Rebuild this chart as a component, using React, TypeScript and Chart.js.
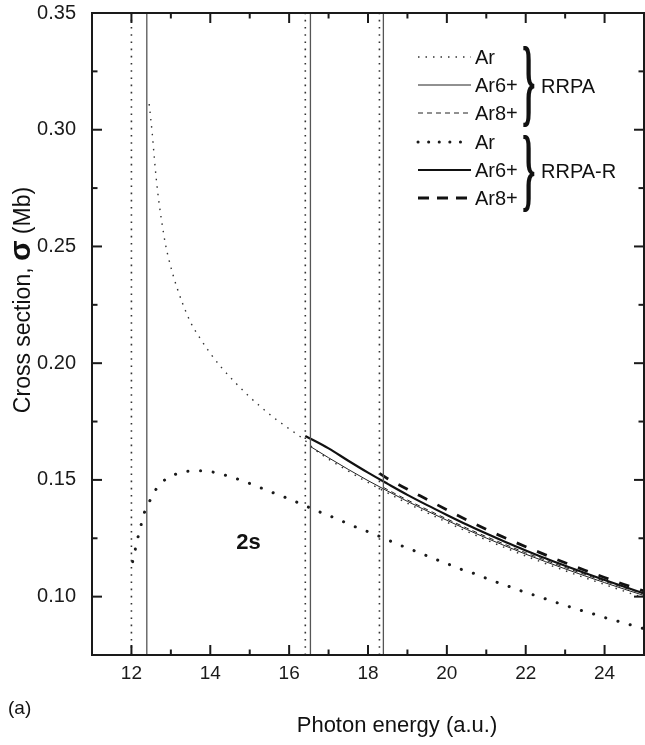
import React, { useEffect, useRef } from 'react';
import { Chart, registerables } from 'chart.js';

Chart.register(...registerables);

const FONT = "'Liberation Sans', Arial, sans-serif";

// ---- axes ----
const xRange = [11, 25];
const yRange = [0.075, 0.35];
const xMajorTicks = [12, 14, 16, 18, 20, 22, 24];
const xMinorTicks = [11, 13, 15, 17, 19, 21, 23, 25];
const yMajorTicks = [0.1, 0.15, 0.2, 0.25, 0.3, 0.35];
const yMinorTicks = [0.075, 0.125, 0.175, 0.225, 0.275, 0.325];
const xTitle = 'Photon energy (a.u.)';
const yTitleParts = ['Cross section, ', 'σ', ' (Mb)'];
const panelLabel = '(a)';
const shellLabel = '2s';
const shellLabelAt = [14.97, 0.1228];

// ---- thresholds (vertical lines) ----
const thresholdsRRPA_R = [12.0, 16.41, 18.29]; // dotted
const thresholdsRRPA = [12.39, 16.54, 18.39]; // solid

// ---- RRPA ----
const rrpaArE = [12.45, 12.53, 12.58, 12.63, 12.69, 12.77, 12.86, 12.94, 13.04, 13.15, 13.3, 13.5, 13.74, 13.98, 14.28, 14.61, 14.97, 15.3, 15.6, 15.95, 16.26, 16.41, 16.6, 17.0, 17.5, 18.0, 18.5, 19.0, 19.5, 20.0, 20.5, 21.0, 21.5, 22.0, 22.5, 23.0, 23.5, 24.0, 24.5, 25.0];
const rrpaArS = [0.311, 0.298, 0.288, 0.279, 0.27, 0.2605, 0.2512, 0.2451, 0.2387, 0.2326, 0.2255, 0.2175, 0.2107, 0.2047, 0.1982, 0.1921, 0.186, 0.181, 0.1768, 0.1725, 0.1688, 0.1668, 0.1637, 0.1589, 0.1538, 0.1489, 0.1444, 0.14, 0.1359, 0.1319, 0.128, 0.1243, 0.1208, 0.1174, 0.1142, 0.1111, 0.1081, 0.1052, 0.1023, 0.0995];

const rrpaAr6E = [16.54, 17.0, 17.5, 18.0, 18.5, 19.0, 19.5, 20.0, 20.5, 21.0, 21.5, 22.0, 22.5, 23.0, 23.5, 24.0, 24.5, 25.0];
const rrpaAr6S = [0.1643, 0.1595, 0.1545, 0.1497, 0.1452, 0.1408, 0.1367, 0.1327, 0.1288, 0.1251, 0.1216, 0.1182, 0.115, 0.1119, 0.1089, 0.106, 0.1032, 0.1005];

const rrpaAr8E = [18.39, 18.5, 19.0, 19.5, 20.0, 20.5, 21.0, 21.5, 22.0, 22.5, 23.0, 23.5, 24.0, 24.5, 25.0];
const rrpaAr8S = [0.1468, 0.1458, 0.1414, 0.1373, 0.1333, 0.1294, 0.1257, 0.1222, 0.1188, 0.1156, 0.1125, 0.1095, 0.1066, 0.1038, 0.1011];

// ---- RRPA-R ----
const rrpaRArE = [12.03, 12.07, 12.13, 12.22, 12.3, 12.43, 12.6, 12.9, 13.24, 13.56, 13.87, 14.21, 14.53, 14.85, 15.18, 15.5, 15.83, 16.15, 16.47, 16.8, 17.13, 17.46, 17.78, 18.1, 18.42, 18.76, 19.08, 19.41, 19.73, 20.05, 20.38, 20.71, 21.04, 21.36, 21.69, 22.01, 22.34, 22.66, 22.98, 23.32, 23.64, 23.97, 24.29, 24.62, 24.95, 25.0];
const rrpaRArS = [0.115, 0.1178, 0.123, 0.1289, 0.1346, 0.1397, 0.1454, 0.1507, 0.153, 0.1539, 0.1539, 0.1527, 0.1513, 0.1494, 0.1473, 0.1451, 0.143, 0.1408, 0.1385, 0.1361, 0.1339, 0.1315, 0.1292, 0.1272, 0.1249, 0.1224, 0.1203, 0.1181, 0.1159, 0.1138, 0.1116, 0.1098, 0.1076, 0.1056, 0.1037, 0.1017, 0.1, 0.0981, 0.0964, 0.0945, 0.093, 0.0912, 0.0897, 0.0881, 0.0865, 0.0863];

const rrpaRAr6E = [16.41, 17.0, 17.5, 18.0, 18.5, 19.0, 19.5, 20.0, 20.5, 21.0, 21.5, 22.0, 22.5, 23.0, 23.5, 24.0, 24.5, 25.0];
const rrpaRAr6S = [0.1688, 0.1635, 0.1582, 0.1531, 0.1483, 0.1436, 0.1392, 0.135, 0.1309, 0.127, 0.1233, 0.1198, 0.1164, 0.1132, 0.1101, 0.1071, 0.1042, 0.1014];

const rrpaRAr8E = [18.29, 18.5, 19.0, 19.5, 20.0, 20.5, 21.0, 21.5, 22.0, 22.5, 23.0, 23.5, 24.0, 24.5, 25.0];
const rrpaRAr8S = [0.1528, 0.1505, 0.146, 0.1416, 0.1372, 0.1329, 0.1288, 0.125, 0.1214, 0.1179, 0.1145, 0.1113, 0.1082, 0.1052, 0.1024];

// ---- legend ----
const legendLabels = ['Ar', 'Ar6+', 'Ar8+', 'Ar', 'Ar6+', 'Ar8+'];
const legendGroups = ['RRPA', 'RRPA-R'];

// styles
const STYLE = {
  fineDot: { color: '#333', width: 1.4, dash: [1.5, 6], cap: 'butt' },
  thinSolid: { color: '#222', width: 1, dash: [], cap: 'butt' },
  thinDash: { color: '#222', width: 1, dash: [5, 4], cap: 'butt' },
  bigDot: { color: '#1a1a1a', width: 3, dash: [0.1, 12.6], cap: 'round' },
  thickSolid: { color: '#111', width: 2.2, dash: [], cap: 'butt' },
  thickDash: { color: '#111', width: 2.8, dash: [10.5, 11.5], cap: 'butt' },
};
const legendStyles = [STYLE.fineDot, STYLE.thinSolid, STYLE.thinDash, STYLE.bigDot, STYLE.thickSolid, STYLE.thickDash];

const pts = (E: number[], S: number[]) => E.map((e, i) => ({ x: e, y: S[i] }));

function curve(label: string, E: number[], S: number[], st: any) {
  return {
    label,
    data: pts(E, S),
    borderColor: st.color,
    borderWidth: st.width,
    borderDash: st.dash,
    borderCapStyle: st.cap,
    pointRadius: 0,
    fill: false,
    cubicInterpolationMode: 'monotone',
  };
}

function vline(t: number, dotted: boolean) {
  return {
    label: 'threshold',
    data: [{ x: t, y: yRange[0] }, { x: t, y: yRange[1] }],
    borderColor: dotted ? '#333' : '#555',
    borderWidth: dotted ? 1.6 : 1.3,
    borderDash: dotted ? [1.6, 5.6] : [],
    pointRadius: 0,
    fill: false,
  };
}

const decorPlugin = {
  id: 'decor',
  afterDraw(chart: any) {
    const { ctx, chartArea, scales } = chart;
    const { left, right, top, bottom } = chartArea;
    const xs = scales.x;
    const ys = scales.y;
    ctx.save();
    // frame
    ctx.strokeStyle = '#1a1a1a';
    ctx.lineWidth = 2;
    ctx.setLineDash([]);
    ctx.strokeRect(left, top, right - left, bottom - top);
    const seg = (x1: number, y1: number, x2: number, y2: number) => {
      ctx.beginPath();
      ctx.moveTo(x1, y1);
      ctx.lineTo(x2, y2);
      ctx.stroke();
    };
    const MAJ = 10, MIN = 5.5;
    xMajorTicks.forEach((v) => { const p = xs.getPixelForValue(v); seg(p, bottom, p, bottom - MAJ); seg(p, top, p, top + MAJ); });
    xMinorTicks.forEach((v) => { const p = xs.getPixelForValue(v); seg(p, bottom, p, bottom - MIN); seg(p, top, p, top + MIN); });
    yMajorTicks.forEach((v) => { const p = ys.getPixelForValue(v); seg(left, p, left + MAJ, p); seg(right, p, right - MAJ, p); });
    yMinorTicks.forEach((v) => { const p = ys.getPixelForValue(v); seg(left, p, left + MIN, p); seg(right, p, right - MIN, p); });

    ctx.fillStyle = '#111';
    // 2s label
    ctx.font = `bold 22px ${FONT}`;
    ctx.textAlign = 'center';
    ctx.textBaseline = 'middle';
    ctx.fillText(shellLabel, xs.getPixelForValue(shellLabelAt[0]), ys.getPixelForValue(shellLabelAt[1]));

    // x title
    ctx.font = `22px ${FONT}`;
    ctx.fillText(xTitle, (left + right) / 2 + 29, 726);
    // panel label
    ctx.textAlign = 'left';
    ctx.font = `19px ${FONT}`;
    ctx.fillText(panelLabel, 8, 709);

    // y title (rotated, mixed fonts)
    ctx.save();
    ctx.translate(22, 300);
    ctx.rotate(-Math.PI / 2);
    const fonts = [`23px ${FONT}`, `bold 30px ${FONT}`, `23px ${FONT}`];
    const widths = yTitleParts.map((t, i) => { ctx.font = fonts[i]; return ctx.measureText(t).width; });
    let cx = -widths.reduce((a, b) => a + b, 0) / 2;
    ctx.textAlign = 'left';
    ctx.textBaseline = 'alphabetic';
    yTitleParts.forEach((t, i) => { ctx.font = fonts[i]; ctx.fillText(t, cx, 8); cx += widths[i]; });
    ctx.restore();

    // legend
    const rowsY = [57, 85, 113, 142, 170, 198];
    const lx1 = 418, lx2 = 471;
    legendLabels.forEach((lab, i) => {
      const st: any = legendStyles[i];
      ctx.save();
      ctx.strokeStyle = st.color;
      ctx.lineWidth = st.width;
      ctx.lineCap = st.cap;
      ctx.setLineDash(i === 3 ? [0.1, 10.5] : i === 5 ? [11, 8] : st.dash);
      seg(lx1, rowsY[i], lx2, rowsY[i]);
      ctx.restore();
      ctx.font = `20px ${FONT}`;
      ctx.textAlign = 'left';
      ctx.textBaseline = 'middle';
      ctx.fillText(lab, 475, rowsY[i] + 1);
    });
    // braces
    const brace = (x: number, yTop: number, h: number) => {
      ctx.save();
      ctx.font = `bold 40px 'Liberation Serif', serif`;
      ctx.textAlign = 'left';
      ctx.textBaseline = 'alphabetic';
      const m = ctx.measureText('}');
      const gh = m.actualBoundingBoxAscent + m.actualBoundingBoxDescent;
      const sy = h / gh;
      ctx.translate(x, yTop);
      ctx.scale(0.85, sy);
      ctx.fillText('}', 0, m.actualBoundingBoxAscent);
      ctx.restore();
    };
    brace(522, 46, 82);
    brace(522, 134, 80);
    ctx.font = `20px ${FONT}`;
    ctx.textAlign = 'left';
    ctx.textBaseline = 'middle';
    ctx.fillText(legendGroups[0], 541, 87);
    ctx.fillText(legendGroups[1], 541, 172);
    ctx.restore();
  },
};

export default function App() {
  const ref = useRef<HTMLCanvasElement | null>(null);
  useEffect(() => {
    document.body.style.margin = '0';
    const canvas = ref.current!;
    const datasets: any[] = [
      ...thresholdsRRPA_R.map((t) => vline(t, true)),
      ...thresholdsRRPA.map((t) => vline(t, false)),
      curve('RRPA Ar', rrpaArE, rrpaArS, STYLE.fineDot),
      curve('RRPA Ar6+', rrpaAr6E, rrpaAr6S, STYLE.thinSolid),
      curve('RRPA Ar8+', rrpaAr8E, rrpaAr8S, STYLE.thinDash),
      curve('RRPA-R Ar', rrpaRArE, rrpaRArS, STYLE.bigDot),
      curve('RRPA-R Ar6+', rrpaRAr6E, rrpaRAr6S, STYLE.thickSolid),
      curve('RRPA-R Ar8+', rrpaRAr8E, rrpaRAr8S, STYLE.thickDash),
    ];
    const chart = new Chart(canvas, {
      type: 'line',
      data: { datasets },
      options: {
        animation: false,
        responsive: false,
        devicePixelRatio: 1,
        layout: { padding: { top: 13, right: 1, left: 0, bottom: 0 } },
        plugins: { legend: { display: false }, tooltip: { enabled: false } },
        scales: {
          x: {
            type: 'linear',
            min: xRange[0],
            max: xRange[1],
            afterBuildTicks: (s: any) => { s.ticks = xMajorTicks.map((v) => ({ value: v })); },
            afterFit: (s: any) => { s.height = 90; s.paddingLeft = 0; s.paddingRight = 0; },
            grid: { display: false, drawTicks: false },
            border: { display: false },
            ticks: {
              padding: 7,
              color: '#1a1a1a',
              font: { family: FONT, size: 19 },
              maxRotation: 0,
              autoSkip: false,
              callback: (v: any) => String(v),
            },
          },
          y: {
            type: 'linear',
            min: yRange[0],
            max: yRange[1],
            afterBuildTicks: (s: any) => { s.ticks = yMajorTicks.map((v) => ({ value: v })); },
            afterFit: (s: any) => { s.width = 92; s.paddingTop = 0; s.paddingBottom = 0; },
            grid: { display: false, drawTicks: false },
            border: { display: false },
            ticks: {
              padding: 16,
              color: '#1a1a1a',
              font: { family: FONT, size: 20 },
              autoSkip: false,
              callback: (v: any) => Number(v).toFixed(2),
            },
          },
        },
      } as any,
      plugins: [decorPlugin],
    });
    return () => chart.destroy();
  }, []);
  return <canvas ref={ref} width={645} height={745} style={{ display: 'block' }} />;
}
